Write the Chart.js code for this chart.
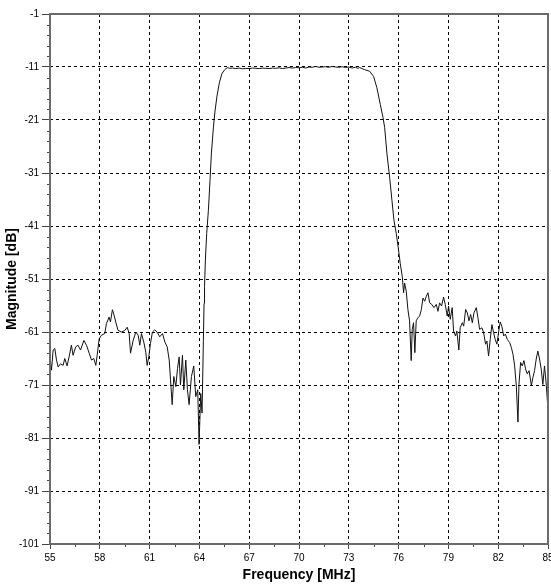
<!DOCTYPE html>
<html>
<head>
<meta charset="utf-8">
<script src="https://cdn.jsdelivr.net/npm/chart.js@4.4.0/dist/chart.umd.min.js"></script>
<style>
  html, body { margin: 0; padding: 0; background: #fff; overflow: hidden; }
  #wrap { width: 551px; height: 586px; position: relative; }
</style>
</head>
<body>
<div id="wrap"><canvas id="filterChart"></canvas></div>
<script>
// frequency (MHz) / magnitude (dB)
const freqs = [
  55.00, 55.09, 55.19, 55.29, 55.39, 55.49, 55.63, 55.79, 55.89, 56.03,
  56.15, 56.29, 56.39, 56.55, 56.69, 56.84, 57.04, 57.20, 57.36, 57.50,
  57.64, 57.76, 57.84, 57.96, 58.10, 58.30, 58.40, 58.56, 58.64, 58.76,
  58.84, 58.96, 59.10, 59.31, 59.51, 59.65, 59.77, 59.85, 60.01, 60.17,
  60.31, 60.41, 60.51, 60.65, 60.77, 60.85, 60.95, 61.05, 61.17, 61.31,
  61.45, 61.61, 61.78, 61.92, 62.06, 62.18, 62.26, 62.36, 62.46, 62.58,
  62.68, 62.78, 62.86, 62.98, 63.06, 63.18, 63.28, 63.38, 63.52, 63.66,
  63.78, 63.90, 63.98, 64.08, 64.16, 64.24, 64.28, 64.31, 64.36, 64.44,
  64.54, 64.64, 64.72, 64.84, 64.94, 65.06, 65.20, 65.35, 65.50, 65.60,
  65.71, 65.80, 66.00, 66.20, 66.40, 66.60, 66.80, 67.00, 67.20, 67.40,
  67.60, 67.80, 68.00, 68.20, 68.40, 68.60, 68.80, 69.00, 69.20, 69.40,
  69.60, 69.80, 70.00, 70.20, 70.40, 70.60, 70.80, 71.00, 71.20, 71.40,
  71.60, 71.80, 72.00, 72.20, 72.40, 72.60, 72.80, 73.00, 73.20, 73.40,
  73.55, 73.65, 73.95, 74.25, 74.49, 74.69, 74.90, 75.06, 75.16, 75.30,
  75.46, 75.60, 75.72, 75.86, 76.00, 76.10, 76.22, 76.30, 76.36, 76.46,
  76.56, 76.66, 76.76, 76.82, 76.90, 76.98, 77.06, 77.16, 77.27, 77.37,
  77.47, 77.57, 77.67, 77.77, 77.87, 78.00, 78.13, 78.27, 78.37, 78.47,
  78.59, 78.71, 78.81, 78.93, 79.01, 79.11, 79.23, 79.31, 79.43, 79.51,
  79.63, 79.71, 79.84, 79.92, 80.04, 80.14, 80.24, 80.34, 80.44, 80.54,
  80.68, 80.78, 80.88, 81.02, 81.12, 81.24, 81.32, 81.42, 81.52, 81.62,
  81.72, 81.82, 81.92, 82.02, 82.12, 82.22, 82.33, 82.43, 82.55, 82.69,
  82.79, 82.89, 82.99, 83.09, 83.19, 83.25, 83.35, 83.45, 83.55, 83.65,
  83.75, 83.86, 84.00, 84.09, 84.19, 84.29, 84.39, 84.49, 84.59, 84.69,
  84.79, 84.90, 85.00
];
const magnitude = [
  -65.7, -68.2, -64.4, -64.1, -66.3, -67.6, -67.0, -67.3, -66.0, -67.4,
  -65.7, -63.5, -65.4, -63.8, -63.5, -64.4, -62.6, -63.5, -65.0, -66.3,
  -66.0, -67.3, -65.4, -62.3, -61.6, -61.3, -59.4, -58.2, -59.1, -56.8,
  -57.6, -59.1, -60.7, -61.0, -60.7, -60.1, -61.3, -65.0, -62.6, -61.0,
  -61.6, -63.5, -61.3, -62.9, -64.8, -67.3, -65.7, -63.2, -61.0, -60.6,
  -61.0, -61.9, -61.3, -62.9, -63.8, -66.3, -70.0, -74.7, -69.4, -71.3,
  -67.9, -65.7, -71.0, -65.4, -71.9, -66.3, -71.9, -74.7, -69.4, -67.4,
  -73.2, -71.9, -82.2, -72.6, -76.3, -62.6, -55.6, -52.4, -47.4, -42.4,
  -38.1, -32.4, -27.4, -22.5, -19.3, -16.5, -14.0, -12.3, -11.6, -11.3,
  -11.1, -11.25, -11.2, -11.3, -11.2, -11.35, -11.25, -11.3, -11.2, -11.25,
  -11.3, -11.2, -11.25, -11.3, -11.2, -11.25, -11.15, -11.3, -11.2, -11.1,
  -11.2, -11.1, -11.15, -11.05, -11.2, -11.0, -11.05, -10.9, -11.05, -11.0,
  -10.95, -11.05, -10.9, -11.0, -11.05, -10.95, -11.1, -11.0, -11.2, -11.05,
  -11.25, -11.1, -11.5, -11.8, -12.75, -14.9, -18.1, -20.5, -22.4, -27.4,
  -31.8, -36.2, -39.9, -42.4, -45.6, -48.1, -50.5, -53.6, -51.75, -53.3,
  -56.75, -58.9, -66.4, -60.5, -59.25, -64.9, -58.9, -58.3, -58.0, -56.75,
  -54.6, -55.2, -54.25, -53.6, -55.5, -55.8, -56.4, -55.8, -57.1, -55.5,
  -56.1, -54.4, -55.8, -58.0, -56.1, -58.6, -56.4, -60.8, -61.75, -60.8,
  -64.4, -60.2, -59.25, -59.9, -56.75, -57.4, -58.9, -57.7, -59.25, -57.4,
  -56.4, -58.3, -60.5, -60.2, -61.1, -63.3, -62.7, -65.5, -62.4, -59.6,
  -61.1, -62.4, -63.3, -61.1, -59.1, -59.9, -61.75, -61.4, -62.4, -63.0,
  -63.9, -65.2, -67.4, -71.1, -78.0, -70.9, -66.75, -67.4, -66.4, -68.0,
  -68.9, -68.3, -71.1, -69.6, -68.3, -66.1, -64.6, -66.1, -68.0, -70.9,
  -67.4, -71.1, -75.8
];
const xTicks = [55, 58, 61, 64, 67, 70, 73, 76, 79, 82, 85];
const yTicks = [-101, -91, -81, -71, -61, -51, -41, -31, -21, -11, -1];

const FONT = "'Liberation Sans Narrow', 'Liberation Sans', Arial, sans-serif";
const axisGray = "#6b6b6b";

// edge ticks get no dashed grid line (frame drawn instead)
function gridColor(ctx, ticks) {
    const v = ctx.tick ? ctx.tick.value : null;
    if (v === ticks[0] || v === ticks[ticks.length - 1]) return "rgba(0,0,0,0)";
    return "#000";
}

const framePlugin = {
    id: "frame",
    afterDraw(chart) {
        const { ctx, chartArea: a, scales } = chart;
        ctx.save();
        // minor ticks
        ctx.strokeStyle = "#444";
        ctx.lineWidth = 1;
        ctx.beginPath();
        for (let i = 0; i < yTicks.length - 1; i++) {
            const step = (yTicks[i + 1] - yTicks[i]) / 5;
            for (let k = 1; k < 5; k++) {
                const py = Math.round(scales.y.getPixelForValue(yTicks[i] + k * step)) + 0.5;
                ctx.moveTo(a.left - 3, py);
                ctx.lineTo(a.left, py);
            }
        }
        for (let i = 0; i < xTicks.length - 1; i++) {
            const px = Math.round(scales.x.getPixelForValue((xTicks[i] + xTicks[i + 1]) / 2)) + 0.5;
            ctx.moveTo(px, a.bottom);
            ctx.lineTo(px, a.bottom + 3);
        }
        ctx.stroke();
        // plot frame
        ctx.strokeStyle = axisGray;
        ctx.lineWidth = 2;
        ctx.strokeRect(a.left, a.top, a.right - a.left, a.bottom - a.top);
        ctx.restore();
    }
};

new Chart(document.getElementById("filterChart"), {
    type: "line",
    data: {
        datasets: [{
            data: freqs.map((f, i) => ({ x: f, y: magnitude[i] })),
            borderColor: "#111",
            borderWidth: 1,
            pointRadius: 0,
            tension: 0,
            fill: false
        }]
    },
    options: {
        responsive: true,
        maintainAspectRatio: false,
        animation: false,
        devicePixelRatio: 1,
        layout: { padding: { top: 14, right: 3, bottom: 0, left: 0 } },
        plugins: {
            legend: { display: false },
            tooltip: { enabled: false }
        },
        scales: {
            x: {
                type: "linear",
                min: 55,
                max: 85,
                afterBuildTicks: (s) => { s.ticks = xTicks.map(v => ({ value: v })); },
                afterFit: (s) => { s.paddingRight = 0; s.height = 42; },
                grid: {
                    color: (c) => gridColor(c, xTicks),
                    tickColor: "#444",
                    tickLength: 5,
                    lineWidth: 1
                },
                border: { display: false, dash: [3, 3] },
                ticks: {
                    color: "#000",
                    padding: 3,
                    maxRotation: 0,
                    font: { family: FONT, size: 10 }
                },
                title: {
                    display: true,
                    text: "Frequency [MHz]",
                    color: "#000",
                    padding: { top: 0, bottom: 2 },
                    font: { family: FONT, size: 14, weight: "bold" }
                }
            },
            y: {
                type: "linear",
                min: -101,
                max: -1,
                afterBuildTicks: (s) => { s.ticks = yTicks.map(v => ({ value: v })); },
                afterFit: (s) => { s.width = 50; },
                grid: {
                    color: (c) => gridColor(c, yTicks),
                    tickColor: "#444",
                    tickLength: 8,
                    lineWidth: 1
                },
                border: { display: false, dash: [3, 3] },
                ticks: {
                    color: "#000",
                    padding: 3,
                    font: { family: FONT, size: 10 }
                },
                title: {
                    display: true,
                    text: "Magnitude [dB]",
                    color: "#000",
                    padding: { top: 4, bottom: 0 },
                    font: { family: FONT, size: 14, weight: "bold" }
                }
            }
        }
    },
    plugins: [framePlugin]
});
</script>
</body>
</html>
